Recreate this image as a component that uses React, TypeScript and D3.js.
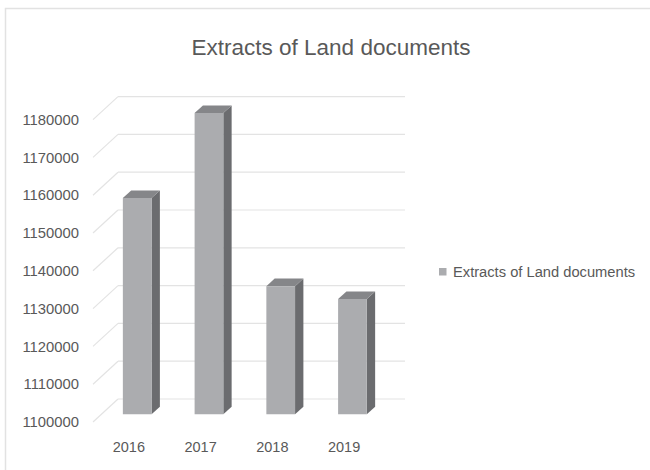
import React from "react";
import * as d3 from "d3";

const categories = ["2016", "2017", "2018", "2019"];
const values = [1157200, 1179700, 1133900, 1130500];
const yTicks = [1100000, 1110000, 1120000, 1130000, 1140000, 1150000, 1160000, 1170000, 1180000];
const title = "Extracts of Land documents";
const seriesName = "Extracts of Land documents";

const W = 650;
const H = 470;
const FRONT_X0 = 93;
const FRONT_X1 = 380;
const DEPTH_X = 25;
const DEPTH_Y = -23;
const FONT = "'Liberation Sans', Arial, sans-serif";
const TEXT = "#595959";

export default function App() {
  const y = d3.scaleLinear().domain([1100000, 1180000]).range([422, 119.6]);
  const x = d3.scaleBand<string>().domain(categories).range([FRONT_X0, FRONT_X1]).paddingInner(0).paddingOuter(0);
  const bw = x.bandwidth();
  const barW = bw * 0.4;
  const t1 = 1 / 3;
  const bdx = DEPTH_X / 3;
  const bdy = DEPTH_Y / 3;

  return (
    <svg width={W} height={H} style={{ position: "absolute", left: 0, top: 0, background: "#fff" }}>
      <rect x={5.5} y={8.5} width={700} height={500} fill="#fff" stroke="#e2e2e2" strokeWidth={1.5} />
      <text x={331} y={55} textAnchor="middle" fontFamily={FONT} fontSize={22.5} fill={TEXT}>
        {title}
      </text>
      {yTicks.map((t) => (
        <g key={t}>
          <line x1={FRONT_X0} y1={y(t)} x2={FRONT_X0 + DEPTH_X} y2={y(t) + DEPTH_Y} stroke="#e3e3e3" strokeWidth={1.2} />
          <line x1={FRONT_X0 + DEPTH_X} y1={y(t) + DEPTH_Y} x2={FRONT_X1 + DEPTH_X} y2={y(t) + DEPTH_Y} stroke="#e3e3e3" strokeWidth={1.2} />
          <text x={79} y={y(t)} dy="0.35em" textAnchor="end" fontFamily={FONT} fontSize={14.8} fill={TEXT}>
            {t}
          </text>
        </g>
      ))}
      {categories.map((c, i) => {
        const bx = (x(c) as number) + bw / 2 - barW / 2 + DEPTH_X * t1;
        const yTop = y(values[i]) + DEPTH_Y * t1;
        const yBot = y(1100000) + DEPTH_Y * t1;
        const front = `${bx},${yTop} ${bx + barW},${yTop} ${bx + barW},${yBot} ${bx},${yBot}`;
        const top = `${bx},${yTop} ${bx + bdx},${yTop + bdy} ${bx + barW + bdx},${yTop + bdy} ${bx + barW},${yTop}`;
        const side = `${bx + barW},${yTop} ${bx + barW + bdx},${yTop + bdy} ${bx + barW + bdx},${yBot + bdy} ${bx + barW},${yBot}`;
        return (
          <g key={c}>
            <polygon points={side} fill="#6b6c6f" />
            <polygon points={top} fill="#858689" />
            <polygon points={front} fill="#abacaf" />
          </g>
        );
      })}
      {categories.map((c) => (
        <text key={c} x={(x(c) as number) + bw / 2} y={447} dy="0.35em" textAnchor="middle" fontFamily={FONT} fontSize={14.5} fill={TEXT}>
          {c}
        </text>
      ))}
      <rect x={439} y={268} width={7.5} height={7.5} fill="#abacaf" />
      <text x={453} y={272} dy="0.35em" fontFamily={FONT} fontSize={14.7} fill={TEXT}>
        {seriesName}
      </text>
    </svg>
  );
}
